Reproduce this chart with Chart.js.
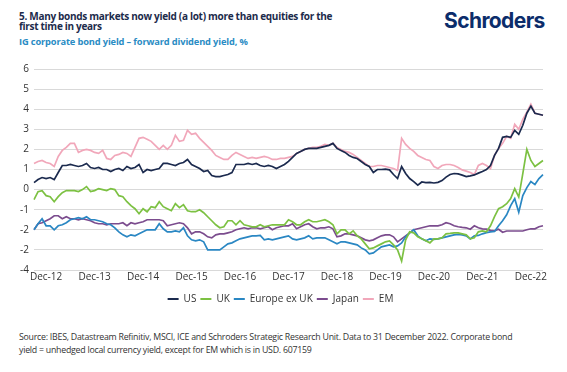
<!DOCTYPE html>
<html><head><meta charset="utf-8">
<script src="https://cdn.jsdelivr.net/npm/chart.js@4"></script>
<style>
body{margin:0;width:567px;height:372px;background:#fff;font-family:"Open Sans",sans-serif;position:relative;overflow:hidden}
#title{position:absolute;left:19px;top:11px;font-weight:700;font-size:10px;line-height:10px;color:#1c2b4b;width:340px;letter-spacing:-0.3px}
#sub{position:absolute;left:19px;top:35px;font-weight:700;font-size:9.3px;color:#2a8cc4;letter-spacing:-0.15px}
#logo{position:absolute;left:444px;top:8px;font-family:Inter,sans-serif;font-weight:700;font-size:21px;color:#0c2d6b;letter-spacing:-0.6px}
#src{position:absolute;left:19px;top:331px;font-size:8.8px;line-height:13px;color:#333;letter-spacing:-0.25px;width:540px}
#wrap{position:absolute;left:0;top:55px;width:567px;height:265px}
</style></head>
<body>
<div id="title">5. Many bonds markets now yield (a lot) more than equities for the<br>first time in years</div>
<div id="sub">IG corporate bond yield – forward dividend yield, %</div>
<div id="logo">Schroders</div>
<div id="wrap"><canvas id="c" width="567" height="265"></canvas></div>
<div id="src">Source: IBES, Datastream Refinitiv, MSCI, ICE and Schroders Strategic Research Unit. Data to 31 December 2022. Corporate bond<br>yield = unhedged local currency yield, except for EM which is in USD. 607159</div>
<script>
// Monthly categories, Sep-2012 .. Mar-2023
const monthNames = ['Jan','Feb','Mar','Apr','May','Jun','Jul','Aug','Sep','Oct','Nov','Dec'];
const startYear = 2012, startMonth = 8, nMonths = 127;
const categories = [];
for (let k = 0; k < nMonths; k++) {
  const m = (startMonth + k) % 12, y = startYear + Math.floor((startMonth + k) / 12);
  categories.push(monthNames[m] + '-' + String(y).slice(2));
}
const xTickLabels = ['Dec-12','Dec-13','Dec-14','Dec-15','Dec-16','Dec-17','Dec-18','Dec-19','Dec-20','Dec-21','Dec-22'];
const yTickValues = [-4,-3,-2,-1,0,1,2,3,4,5,6];
const yTickText   = ['-4','-2','-2','-1','0','1','2','3','4','5','6'];

const US = [0.35,0.5,0.6,0.55,0.6,0.5,0.85,1.2,1.2,1.25,
1.2,1.15,1.2,1.3,1.1,1.05,1.1,1.0,1.0,0.9,
1.0,1.05,0.95,1.15,1.05,1.1,1.25,0.85,1.0,0.95,
1.0,1.05,1.3,1.3,1.25,1.2,1.3,1.35,1.5,1.25,
1.15,1.05,0.9,0.95,0.7,0.65,0.65,0.7,0.75,0.85,
1.25,1.25,1.25,1.3,1.25,1.3,1.2,1.15,1.2,1.15,
1.05,1.15,1.25,1.4,1.6,1.8,1.9,2.0,2.05,2.05,
2.05,2.1,2.15,2.2,2.3,2.05,1.95,1.85,1.7,1.6,
1.55,1.4,1.25,1.15,0.85,1.0,1.0,1.02,0.98,0.75,
0.55,1.15,0.8,0.55,0.4,0.22,0.38,0.35,0.36,0.33,
0.36,0.45,0.62,0.75,0.8,0.78,0.72,0.65,0.68,0.73,
0.82,0.9,1.0,1.2,1.7,2.05,2.6,2.65,2.6,2.95,
2.75,3.2,3.8,4.15,3.8,3.75,3.7];
const UK = [-0.5,-0.1,-0.05,-0.3,-0.35,-0.6,-0.35,-0.15,-0.05,-0.05,
-0.05,-0.1,0.0,0.15,-0.1,-0.05,0.05,0.0,-0.05,0.05,
0.0,-0.3,-0.35,-0.6,-0.8,-0.95,-1.2,-0.95,-1.1,-0.85,
-0.9,-0.6,-0.85,-0.95,-1.05,-0.7,-0.9,-0.75,-1.05,-1.1,
-1.1,-1.0,-1.15,-1.35,-1.55,-1.75,-1.9,-1.85,-1.55,-1.55,
-1.75,-1.55,-1.75,-1.8,-1.85,-1.85,-1.75,-1.85,-1.8,-1.75,
-1.75,-1.75,-1.75,-1.5,-1.6,-1.75,-1.75,-1.6,-1.5,-1.6,
-1.6,-1.55,-1.5,-1.6,-1.75,-2.2,-2.0,-2.0,-2.2,-2.05,
-2.3,-2.45,-2.7,-2.95,-2.9,-2.8,-2.7,-2.6,-2.55,-2.75,
-3.0,-3.55,-2.5,-2.1,-2.15,-2.35,-2.45,-2.55,-2.65,-2.45,
-2.45,-2.4,-2.2,-2.18,-2.15,-2.15,-2.2,-2.25,-2.45,-2.4,
-2.1,-2.05,-2.1,-1.8,-1.35,-0.95,-0.85,-0.7,-0.45,0.05,
-0.37,0.8,2.0,1.45,1.15,1.3,1.45];
const EuropeExUK = [-2.0,-1.7,-1.45,-1.8,-1.8,-2.0,-1.8,-1.75,-1.65,-1.5,
-1.45,-1.4,-1.45,-1.35,-1.5,-1.5,-1.55,-1.6,-1.7,-1.75,
-1.9,-2.1,-2.25,-2.35,-2.25,-2.3,-2.2,-2.1,-2.0,-2.0,
-2.0,-1.7,-1.95,-2.1,-2.1,-2.05,-2.1,-1.9,-2.3,-2.5,
-2.55,-2.5,-2.6,-3.0,-3.0,-3.0,-3.0,-2.85,-2.7,-2.65,
-2.55,-2.45,-2.4,-2.35,-2.3,-2.3,-2.28,-2.5,-2.45,-2.5,
-2.45,-2.4,-2.35,-2.3,-2.45,-2.5,-2.45,-2.4,-2.3,-2.45,
-2.4,-2.4,-2.4,-2.5,-2.6,-2.7,-2.6,-2.6,-2.65,-2.7,
-2.75,-2.9,-3.0,-3.2,-3.15,-3.0,-2.85,-2.8,-2.75,-2.85,
-2.8,-2.65,-2.35,-2.15,-2.0,-2.3,-2.45,-2.55,-2.45,-2.48,
-2.45,-2.4,-2.35,-2.3,-2.25,-2.23,-2.25,-2.3,-2.45,-2.3,
-2.28,-2.2,-2.14,-2.1,-2.08,-1.8,-1.55,-1.25,-0.8,-0.45,
-1.13,-0.3,0.1,0.4,0.25,0.55,0.75];
const Japan = [-2.0,-1.7,-1.65,-1.55,-1.45,-1.3,-1.3,-1.45,-1.35,-1.45,
-1.45,-1.5,-1.45,-1.5,-1.55,-1.65,-1.7,-1.7,-1.75,-1.7,
-1.7,-1.7,-1.65,-1.8,-1.65,-1.7,-1.65,-1.6,-1.5,-1.5,
-1.5,-1.5,-1.55,-1.8,-1.75,-1.7,-1.65,-1.7,-1.9,-2.2,
-2.1,-2.1,-2.2,-2.35,-2.4,-2.25,-2.2,-2.2,-2.15,-2.1,
-2.0,-1.95,-1.9,-1.95,-1.9,-1.9,-1.95,-1.9,-1.85,-2.0,
-1.9,-1.85,-1.8,-1.8,-1.7,-1.95,-1.85,-1.75,-1.7,-1.85,
-1.95,-1.9,-1.9,-1.85,-1.95,-2.35,-2.3,-2.2,-2.2,-2.25,
-2.3,-2.4,-2.5,-2.55,-2.5,-2.4,-2.3,-2.25,-2.25,-2.35,
-2.6,-2.45,-2.3,-2.15,-2.0,-1.95,-1.9,-1.85,-1.8,-1.8,
-1.8,-1.75,-1.65,-1.7,-1.8,-1.85,-1.88,-1.9,-1.97,-1.8,
-1.9,-1.95,-1.97,-2.03,-2.05,-1.97,-2.12,-2.06,-2.06,-2.06,
-2.06,-2.06,-2.0,-1.95,-1.95,-1.85,-1.8];
const EM = [1.3,1.4,1.45,1.35,1.3,1.15,1.65,1.95,2.1,2.3,
2.3,1.85,1.95,2.0,1.95,1.85,1.8,1.95,1.55,1.5,
1.7,1.75,1.85,1.8,1.65,2.1,2.55,2.6,2.5,2.4,
2.2,2.0,2.2,2.0,2.2,2.7,2.4,2.45,2.95,2.75,
2.8,2.55,2.35,2.15,1.95,1.7,1.6,1.5,1.5,1.7,
1.85,1.75,1.65,1.55,1.6,1.55,1.6,1.65,1.6,1.5,
1.5,1.55,1.55,1.6,1.65,1.8,1.9,2.0,2.05,2.1,
2.1,2.15,2.25,2.2,2.3,2.1,2.0,1.9,1.85,1.75,
1.6,1.45,1.3,1.15,1.15,1.2,1.2,1.15,1.1,1.05,
0.95,2.55,2.25,2.05,1.9,1.7,1.6,1.5,1.45,1.15,
1.05,1.2,1.25,1.25,1.2,1.1,0.98,0.92,0.85,0.75,
1.2,1.3,1.2,1.05,1.7,2.05,2.3,2.65,2.55,3.25,
3.0,3.5,3.85,4.25,3.8,3.75,3.7];

const seriesNames = ['US','UK','Europe ex UK','Japan','EM'];
const seriesData = [US, UK, EuropeExUK, Japan, EM];
const seriesColors = ['#1b2a4e','#7cc142','#2a87c3','#7b4c8e','#f1a7ba'];

const datasets = seriesNames.map((n, k) => ({
  label: n, data: seriesData[k], borderColor: seriesColors[k], backgroundColor: seriesColors[k],
  borderWidth: 1.7, pointRadius: 0, tension: 0, fill: false
}));

const legendShift = {
  id: 'legendShift',
  afterLayout(chart) { if (chart.legend) { chart.legend.left += 9; chart.legend.right += 9; } }
};

new Chart(document.getElementById('c'), {
  type: 'line',
  data: { labels: categories, datasets },
  plugins: [legendShift],
  options: {
    responsive: false, animation: false,
    layout: { padding: { top: 14, right: 24, bottom: 6, left: 0 } },
    plugins: {
      tooltip: { enabled: false },
      legend: {
        position: 'bottom',
        labels: {
          boxWidth: 11, boxHeight: 2, padding: 4,
          font: { family: 'Open Sans', size: 10 }, color: '#333',
          generateLabels: (chart) => Chart.defaults.plugins.legend.labels.generateLabels(chart).map(l => ({...l, lineWidth: 0}))
        }
      }
    },
    scales: {
      x: {
        type: 'category',
        grid: { display: false, drawTicks: false },
        border: { display: false },
        ticks: {
          autoSkip: false, maxRotation: 0, minRotation: 0, padding: 1,
          font: { family: 'Open Sans', size: 10 }, color: '#333',
          callback: function (v) { const l = this.getLabelForValue(v); return xTickLabels.includes(l) ? l : ''; }
        },
        afterFit: (s) => { s.height = 20; }
      },
      y: {
        min: -4, max: 6,
        grid: { color: '#d9d9d9', lineWidth: 1, drawTicks: false },
        border: { display: false },
        ticks: {
          stepSize: 1, padding: 5,
          font: { family: 'Open Sans', size: 10 }, color: '#333',
          callback: (v) => yTickText[yTickValues.indexOf(v)]
        },
        afterFit: (s) => { s.width = 34; }
      }
    }
  }
});
</script>
</body></html>
